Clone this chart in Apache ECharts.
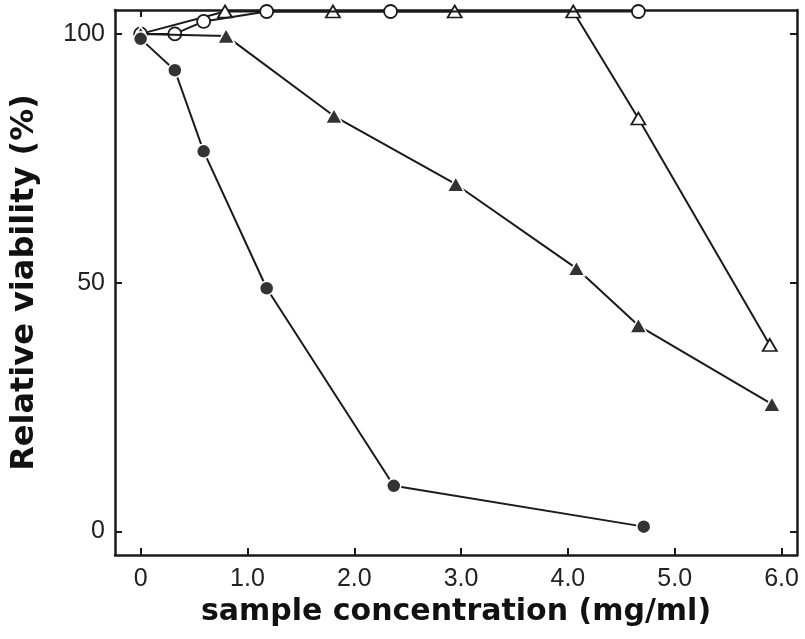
<!DOCTYPE html>
<html><head><meta charset="utf-8">
<script src="https://cdn.jsdelivr.net/npm/echarts@6/dist/echarts.min.js"></script>
<style>html,body{margin:0;padding:0;background:#fff}#c{width:805px;height:639px}</style>
</head><body><div id="c"></div>
<script>
// x positions for circle series
const xCircle = [0, 0.32, 0.59, 1.18, 2.37, 4.71];
const filledCircle = [99.0, 92.7, 76.4, 48.9, 9.2, 1.0];
const xOpenCircle = [0, 0.32, 0.59, 1.18, 2.34, 4.66];
const openCircle = [100, 100, 102.5, 104.5, 104.5, 104.5];
// x positions for triangle series
const xTri = [0, 0.8, 1.81, 2.95, 4.08, 4.66, 5.91];
const filledTri = [100, 99.6, 83.5, 69.8, 52.9, 41.4, 25.6];
const xOpenTri = [0, 0.79, 1.8, 2.94, 4.05, 4.66, 5.89];
const openTri = [100, 104.5, 104.5, 104.5, 104.5, 83.0, 37.5];
const xTicks = [0, 1, 2, 3, 4, 5, 6];
const yTicks = [0, 50, 100];
const xName = 'sample concentration (mg/ml)';
const yName = 'Relative viability (%)';

const zip = (xs, ys) => xs.map((x, i) => [x, ys[i]]);
const ink = '#1a1a1a';
const font = '"Liberation Sans", Arial, sans-serif';
const boldFont = '"DejaVu Sans", "Liberation Sans", sans-serif';

const chart = echarts.init(document.getElementById('c'), null, {renderer: 'canvas'});
const axisLine = {show: true, onZero: false, lineStyle: {color: ink, width: 2.5}};
chart.setOption({
  animation: false,
  backgroundColor: '#fff',
  grid: {left: 115, right: 8, top: 10, bottom: 84},
  xAxis: [{
    type: 'value', min: -0.24, max: 6.145, position: 'bottom',
    axisLine: axisLine,
    axisTick: {show: true, inside: true, length: 7, customValues: xTicks, lineStyle: {color: ink, width: 2}},
    axisLabel: {customValues: xTicks, margin: 12, fontFamily: font, fontSize: 25, color: '#222',
      formatter: v => v === 0 ? '0' : v.toFixed(1)},
    splitLine: {show: false},
    name: xName, nameLocation: 'middle', nameGap: 39,
    nameTextStyle: {fontFamily: boldFont, fontSize: 30, fontWeight: 'bold', color: '#111'}
  }, {
    type: 'value', min: -0.24, max: 6.145, position: 'top',
    axisLine: axisLine,
    axisTick: {show: true, inside: true, length: 7, customValues: [0], lineStyle: {color: ink, width: 2}},
    axisLabel: {show: false}, splitLine: {show: false}
  }],
  yAxis: [{
    type: 'value', min: -4.7, max: 104.8, position: 'left',
    axisLine: axisLine,
    axisTick: {show: true, inside: true, length: 7, customValues: yTicks, lineStyle: {color: ink, width: 2}},
    axisLabel: {customValues: yTicks, margin: 10, fontFamily: font, fontSize: 25, color: '#222'},
    splitLine: {show: false},
    name: yName, nameLocation: 'middle', nameGap: 74,
    nameTextStyle: {fontFamily: boldFont, fontSize: 32, fontWeight: 'bold', color: '#111'}
  }, {
    type: 'value', min: -4.7, max: 104.8, position: 'right',
    axisLine: axisLine,
    axisTick: {show: true, inside: true, length: 7, customValues: yTicks, lineStyle: {color: ink, width: 2}},
    axisLabel: {show: false}, splitLine: {show: false}
  }],
  series: [
    {type: 'line', data: zip(xOpenTri, openTri), symbol: 'triangle', symbolSize: [14, 12],
      lineStyle: {color: ink, width: 2}, itemStyle: {color: '#fff', borderColor: ink, borderWidth: 1.8}, z: 2},
    {type: 'line', data: zip(xOpenCircle, openCircle), symbol: 'circle', symbolSize: 13,
      lineStyle: {color: ink, width: 2}, itemStyle: {color: '#fff', borderColor: ink, borderWidth: 1.8}, z: 3},
    {type: 'line', data: zip(xTri, filledTri), symbol: 'triangle', symbolSize: [17, 15],
      lineStyle: {color: ink, width: 2}, itemStyle: {color: '#333', borderColor: '#fff', borderWidth: 1.5}, z: 4},
    {type: 'line', data: zip(xCircle, filledCircle), symbol: 'circle', symbolSize: 14,
      lineStyle: {color: ink, width: 2}, itemStyle: {color: '#333', borderColor: '#fff', borderWidth: 1.5}, z: 5}
  ]
});
</script></body></html>
